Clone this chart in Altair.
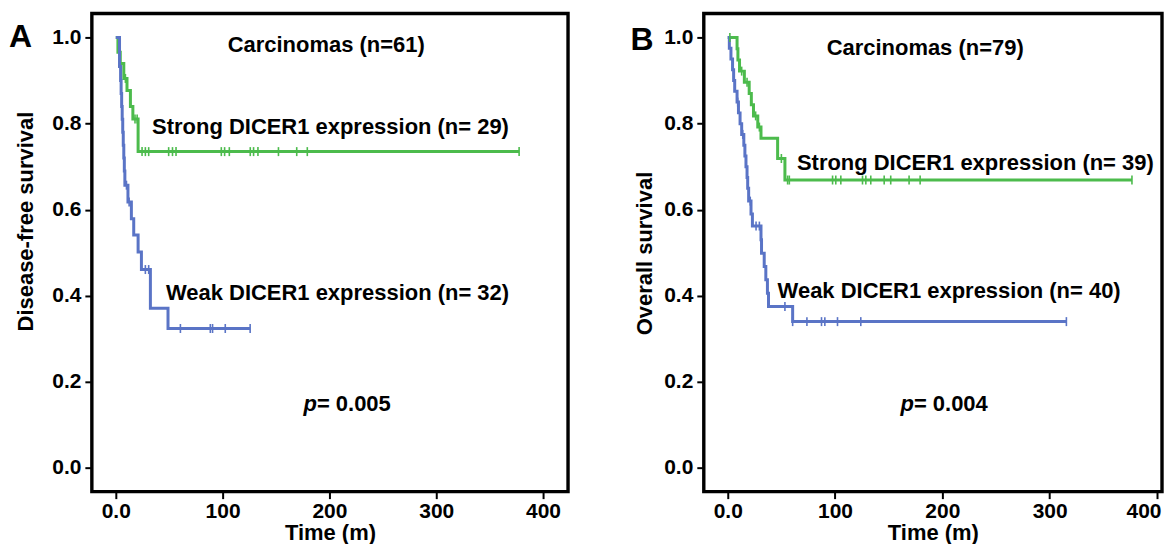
import altair as alt
import pandas as pd

GREEN = "#4cbb4c"
BLUE = "#5a74c6"
FONT = "Liberation Sans"

# ---------------- Panel A: Disease-free survival ----------------
a_strong_t = [0, 2, 4.2, 7.5, 10.5, 13.7, 16, 20.9, 377.6]
a_strong_s = [1.0, 0.966, 0.94, 0.905, 0.877, 0.84, 0.811, 0.735, 0.735]
a_strong_cens_t = [9, 18, 20, 24.6, 27.7, 30.8, 49.5, 53.1, 56.4, 98.8, 101.9, 106.3,
                   125.9, 129, 133.1, 152.3, 169.4, 179.3, 377.6]
a_weak_t = [0, 3.5, 4.5, 5, 5.5, 6, 6.5, 7, 7.5, 8, 8.5, 11.4, 14.6, 16.8, 20.9, 24,
            32.4, 48.9, 125.8]
a_weak_s = [1.0, 0.933, 0.90, 0.87, 0.84, 0.81, 0.78, 0.75, 0.72, 0.69, 0.657, 0.618,
            0.579, 0.541, 0.502, 0.461, 0.371, 0.324, 0.324]
a_weak_cens_t = [10, 12.5, 27.7, 30.8, 60.5, 88.5, 90.6, 102.5, 125.8]

# ---------------- Panel B: Overall survival ----------------
b_strong_t = [0, 8.7, 9.5, 11, 15.5, 20, 22, 24, 28, 31, 46.5, 53.3, 376.7]
b_strong_s = [1.0, 0.974, 0.948, 0.922, 0.896, 0.870, 0.844, 0.818, 0.792, 0.766,
              0.719, 0.669, 0.669]
b_strong_cens_t = [2, 13, 18, 26, 29.5, 50, 55.8, 57.4, 97.7, 100.7, 105.4, 125.6,
                   128.7, 133.3, 145.8, 151.9, 169, 179.3, 376.7]
b_weak_t = [0, 1.5, 3, 4.5, 5.5, 6.5, 8.7, 10, 11.5, 13, 15, 16, 17, 18, 18.6, 19.5,
            21.7, 23, 31, 31.5, 34, 35.5, 37, 38, 60.5, 315.6]
b_weak_s = [1.0, 0.975, 0.95, 0.925, 0.9, 0.875, 0.85, 0.825, 0.8, 0.775, 0.75, 0.725,
            0.70, 0.675, 0.65, 0.62, 0.59, 0.562, 0.53, 0.499, 0.468, 0.437, 0.406,
            0.375, 0.34, 0.34]
b_weak_cens_t = [9.3, 14, 21, 26.4, 29.5, 53.3, 60.5, 73.8, 87.4, 90.5, 102.3, 124, 315.6]

groups = ["Strong", "Weak"]
colors = [GREEN, BLUE]

Y_DOM = [-0.055, 1.056]
Y_TICKS = [0, 0.2, 0.4, 0.6, 0.8, 1.0]
X_TICKS = [0, 100, 200, 300, 400]
HEIGHT = 479


def step_value(ts, ss, t):
    v = ss[0]
    for ti, si in zip(ts, ss):
        if ti <= t:
            v = si
    return v


def build_panel(strong, weak, xdom, width, ytitle, title_x, title_y, letter, letter_pos,
                header, header_pos, strong_lbl, strong_pos, weak_lbl, weak_pos,
                pval, p_pos, eq_pos):
    rows = []
    for g, (ts, ss, _) in zip(groups, [strong, weak]):
        for t, s in zip(ts, ss):
            rows.append({"t": t, "s": s, "g": g})
    lines_df = pd.DataFrame(rows)
    crows = []
    for g, (ts, ss, cts) in zip(groups, [strong, weak]):
        for ct in cts:
            crows.append({"t": ct, "s": step_value(ts, ss, ct), "g": g})
    cens_df = pd.DataFrame(crows)

    xscale = alt.Scale(domain=xdom, nice=False, zero=False)
    yscale = alt.Scale(domain=Y_DOM, nice=False, zero=False)
    color = alt.Color("g:N", scale=alt.Scale(domain=groups, range=colors), legend=None)

    xaxis = alt.Axis(values=X_TICKS, format="d",
                     labelExpr="datum.value == 0 ? '0.0' : datum.label",
                     domain=False, grid=False, tickSize=7, tickWidth=2, tickColor="black",
                     tickOpacity=1,
                     labelFont=FONT, labelFontSize=21, labelFontWeight="bold",
                     labelColor="black", labelPadding=2, labelFlush=12,
                     labelFlushOffset=4, title="Time (m)",
                     titleFont=FONT, titleFontSize=22, titleFontWeight="bold",
                     titleColor="black", titlePadding=1)
    yaxis = alt.Axis(values=Y_TICKS, format=".1f", domain=False, grid=False, tickSize=7,
                     tickWidth=2, tickColor="black", tickOpacity=1,
                     labelFont=FONT, labelFontSize=21,
                     labelFontWeight="bold", labelColor="black", labelPadding=4,
                     title=ytitle, titleFont=FONT, titleFontSize=22,
                     titleFontWeight="bold", titleColor="black",
                     titleX=title_x, titleY=title_y)

    lines = alt.Chart(lines_df).mark_line(interpolate="step-after", strokeWidth=3).encode(
        x=alt.X("t:Q", scale=xscale, axis=xaxis),
        y=alt.Y("s:Q", scale=yscale, axis=yaxis),
        color=color, detail="g:N")
    ticks = alt.Chart(cens_df).mark_tick(orient="vertical", size=9, thickness=1.6,
                                         opacity=1).encode(
        x=alt.X("t:Q", scale=xscale), y=alt.Y("s:Q", scale=yscale), color=color)
    frame = alt.Chart(pd.DataFrame([{"k": 0}])).mark_rect(
        filled=False, stroke="#000000", strokeWidth=3.4, opacity=1,
        strokeOpacity=1).encode(
        x=alt.value(0), x2=alt.value(width), y=alt.value(0), y2=alt.value(HEIGHT))

    def txt(label, pos, size=22, align="left", style="normal"):
        df = pd.DataFrame([{"t": pos[0], "s": pos[1], "label": label}])
        return alt.Chart(df).mark_text(font=FONT, fontSize=size, fontWeight="bold",
                                       fontStyle=style, align=align, baseline="alphabetic",
                                       color="black").encode(
            x=alt.X("t:Q", scale=xscale), y=alt.Y("s:Q", scale=yscale), text="label:N")

    layers = [lines, ticks, frame,
              txt(letter, letter_pos, size=32),
              txt(header, header_pos, align="center"),
              txt(strong_lbl, strong_pos),
              txt(weak_lbl, weak_pos),
              txt("p", p_pos, style="italic"),
              txt(pval, eq_pos)]
    return alt.layer(*layers).properties(width=width, height=HEIGHT)


panel_a = build_panel(
    (a_strong_t, a_strong_s, a_strong_cens_t), (a_weak_t, a_weak_s, a_weak_cens_t),
    [-22.4, 423.4], 477, "Disease-free survival", -54, 208,
    "A", (-100, 0.977), "Carcinomas (n=61)", (197, 0.966),
    "Strong DICER1 expression (n= 29)", (34, 0.776),
    "Weak DICER1 expression (n= 32)", (47, 0.39),
    "= 0.005", (175.7, 0.132), (188.3, 0.132))

panel_b = build_panel(
    (b_strong_t, b_strong_s, b_strong_cens_t), (b_weak_t, b_weak_s, b_weak_cens_t),
    [-22.3, 404.7], 459, "Overall survival", -47, 240,
    "B", (-90.5, 0.97), "Carcinomas (n=79)", (184, 0.959),
    "Strong DICER1 expression (n= 39)", (64.5, 0.692),
    "Weak DICER1 expression (n= 40)", (46.5, 0.394),
    "= 0.004", (161, 0.132), (173.5, 0.132))

chart = alt.hconcat(panel_a, panel_b, spacing=136, bounds="flush").properties(
    padding={"left": 0, "top": 3, "right": 0, "bottom": 0},
    background="white"
).configure_view(strokeWidth=0)

chart.save("out.html", embed_options={"renderer": "svg", "actions": False})
